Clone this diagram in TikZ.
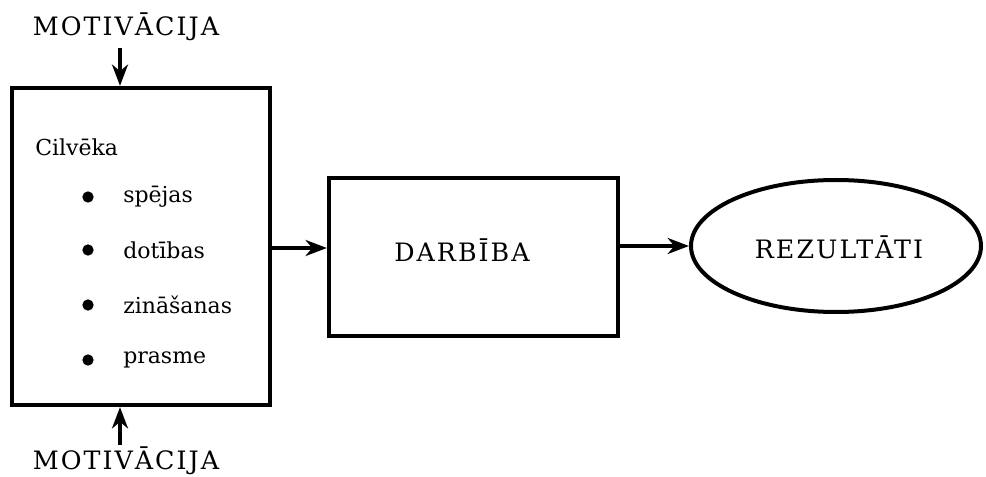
\documentclass[tikz,border=0pt]{standalone}
\usepackage{fontspec}
\setmainfont{DejaVu Serif}
\newfontfamily\capsfont{DejaVu Serif}[LetterSpace=8]
\newfontfamily\lowfont{DejaVu Serif}[LetterSpace=0]
\usetikzlibrary{arrows.meta,shapes.geometric}
\tikzset{
  px/.style={x=0.75pt,y=-0.75pt},
  boxed/.style={draw,line width=3.2pt,rectangle,inner sep=0pt},
  oval/.style={draw,line width=3pt,ellipse,inner sep=0pt},
  caplabel/.style={font=\capsfont\fontsize{19}{22}\selectfont,inner sep=0pt},
  lowlabel/.style={font=\lowfont\fontsize{16.5}{20}\selectfont,inner sep=0pt},
  flow/.style={line width=2.6pt,-{Stealth[length=16pt,width=12pt,inset=5pt]}},
  dot/.style={circle,fill=black,inner sep=0pt,minimum size=8.5pt}
}
\begin{document}
\begin{tikzpicture}[px]
\useasboundingbox (0,0) rectangle (986,477);
% boxes
\node[boxed,minimum width=258*0.75pt,minimum height=317*0.75pt] (person) at (141,246.5) {};
\node[boxed,minimum width=289*0.75pt,minimum height=158*0.75pt] (work) at (473.5,257) {};
\node[oval,minimum width=290*0.75pt,minimum height=132*0.75pt] (result) at (836,246) {};
% texts
\node[caplabel] (mtop) at (126,27) {MOTIVĀCIJA};
\node[caplabel] (mbot) at (126,461) {MOTIVĀCIJA};
\node[caplabel] (dtext) at (462,250) {DARBĪBA};
\node[caplabel] (rtext) at (839,247) {REZULTĀTI};
\node[lowlabel,anchor=west] (who) at (35,147) {Cilvēka};
\node[dot] (b1) at (88,197) {};
\node[dot] (b2) at (88,250) {};
\node[dot] (b3) at (88,305) {};
\node[dot] (b4) at (88,360) {};
\node[lowlabel,anchor=west] (i1) at (123,197) {spējas};
\node[lowlabel,anchor=west] (i2) at (123,250) {dotības};
\node[lowlabel,anchor=west] (i3) at (123,305) {zināšanas};
\node[lowlabel,anchor=west] (i4) at (123,360) {prasme};
% connectors
\coordinate (tstart) at (120,48);
\coordinate (bstart) at (120,445);
\draw[flow] (tstart) -- (tstart |- person.north);
\draw[flow] (bstart) -- (bstart |- person.south);
\draw[flow] (person.east |- 0,248) -- (work.west |- 0,248);
\draw[flow] (work.east |- result.west) -- (result.west);
\end{tikzpicture}
\end{document}
